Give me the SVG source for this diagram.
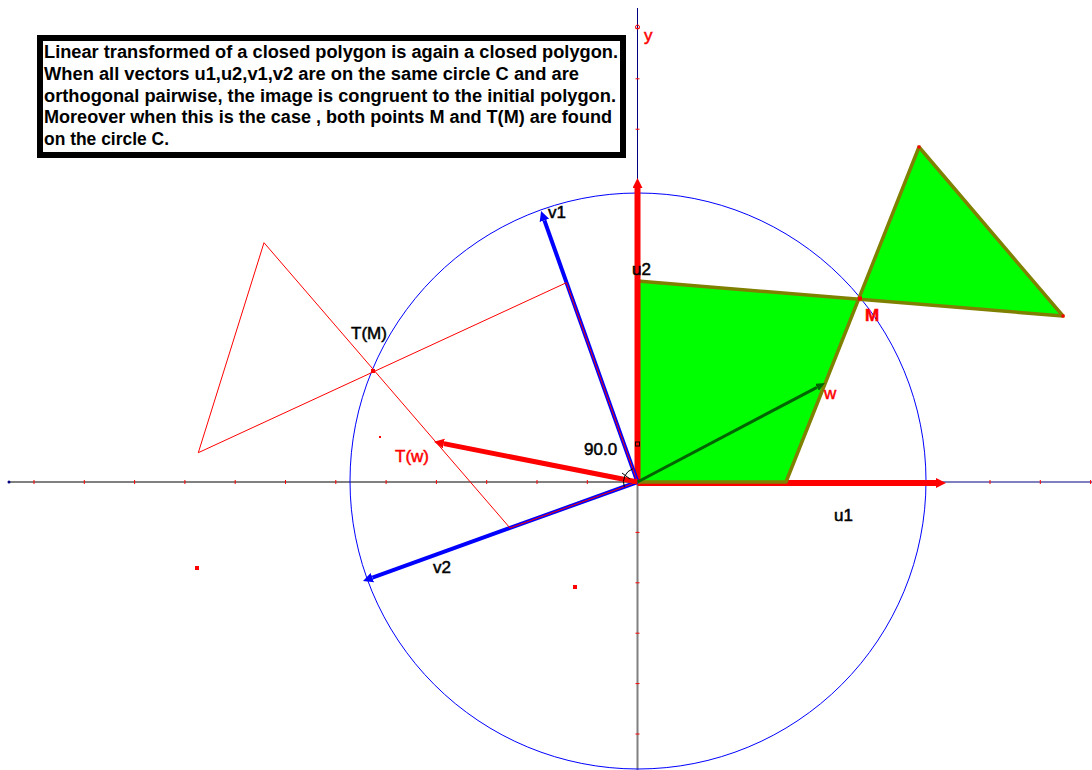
<svg xmlns="http://www.w3.org/2000/svg" width="1092" height="770" viewBox="0 0 1092 770">
<style>
.axg{stroke:#808080;stroke-width:2;fill:none}
.axn{stroke:#000080;stroke-width:1;fill:none}
.tick{stroke:#ff0000;stroke-width:1}
.lbl{font-family:"Liberation Sans",Arial,sans-serif;font-size:17px;stroke-width:0.5}
.blk{fill:#000;stroke:#000}
.red{fill:#ff0000;stroke:#ff0000}
.box{font-family:"Liberation Sans",Arial,sans-serif;font-size:17.5px;font-weight:bold;fill:#000}
</style>
<defs>
<marker id="ahR" markerUnits="userSpaceOnUse" markerWidth="11" markerHeight="11" refX="0" refY="5" orient="auto"><path d="M0,0 L10,5 L0,10 z" fill="#ff0000"/></marker>
<marker id="ahB" markerUnits="userSpaceOnUse" markerWidth="11" markerHeight="11" refX="0" refY="5" orient="auto"><path d="M0,0 L10,5 L0,10 z" fill="#0000ff"/></marker>
<marker id="ahG" markerUnits="userSpaceOnUse" markerWidth="11" markerHeight="11" refX="0" refY="4" orient="auto"><path d="M0,0 L9,4 L0,8 z" fill="#006400"/></marker>
</defs>
<rect width="1092" height="770" fill="#ffffff"/>

<g id="axes">
<line class="axg" x1="9" y1="482" x2="637.5" y2="482"/>
<line class="axn" x1="637.5" y1="482" x2="1092" y2="482"/>
<line class="axn" x1="637.5" y1="8" x2="637.5" y2="482"/>
<line class="axg" x1="637.5" y1="482" x2="637.5" y2="770"/>
<circle cx="9" cy="482" r="1.5" fill="#000080"/>
<g class="tick">
<line x1="34" y1="480" x2="34" y2="484"/><line x1="84.3" y1="480" x2="84.3" y2="484"/><line x1="134.6" y1="480" x2="134.6" y2="484"/><line x1="184.9" y1="480" x2="184.9" y2="484"/><line x1="235.2" y1="480" x2="235.2" y2="484"/><line x1="285.5" y1="480" x2="285.5" y2="484"/><line x1="335.8" y1="480" x2="335.8" y2="484"/><line x1="386.1" y1="480" x2="386.1" y2="484"/><line x1="436.4" y1="480" x2="436.4" y2="484"/><line x1="486.7" y1="480" x2="486.7" y2="484"/><line x1="537" y1="480" x2="537" y2="484"/><line x1="587.3" y1="480" x2="587.3" y2="484"/>
<line x1="990" y1="480" x2="990" y2="484"/><line x1="1040.3" y1="480" x2="1040.3" y2="484"/><line x1="1090.6" y1="480" x2="1090.6" y2="484"/>
<line x1="635.5" y1="28.4" x2="639.5" y2="28.4"/><line x1="635.5" y1="78.8" x2="639.5" y2="78.8"/><line x1="635.5" y1="129.2" x2="639.5" y2="129.2"/>
<line x1="635.5" y1="532.4" x2="639.5" y2="532.4"/><line x1="635.5" y1="582.8" x2="639.5" y2="582.8"/><line x1="635.5" y1="633.2" x2="639.5" y2="633.2"/><line x1="635.5" y1="683.6" x2="639.5" y2="683.6"/><line x1="635.5" y1="734" x2="639.5" y2="734"/>
</g>
<circle cx="637.5" cy="27" r="2" fill="none" stroke="#ff0000" stroke-width="1"/>
</g>

<g id="circleC">
<circle cx="638" cy="481" r="288" fill="none" stroke="#0000ff" stroke-width="1"/>
</g>

<g id="connectors">
<line id="u1" x1="637.5" y1="483" x2="936" y2="483" stroke="#ff0000" stroke-width="6" marker-end="url(#ahR)"/>
<polygon id="polygon" points="637.5,482 637.5,281 1063,316 919,147 786,482" fill="#00ff00" stroke="#808000" stroke-width="3.5" stroke-linejoin="round"/>
<line id="u2" x1="637.5" y1="482" x2="637.5" y2="188" stroke="#ff0000" stroke-width="6" marker-end="url(#ahR)"/>
<line id="v1" x1="637.5" y1="482" x2="544.4" y2="220.4" stroke="#0000ff" stroke-width="4" marker-end="url(#ahB)"/>
<line id="v2" x1="637.5" y1="482" x2="372.4" y2="577.6" stroke="#0000ff" stroke-width="4" marker-end="url(#ahB)"/>
<polygon id="Tpolygon" points="637.5,482 566.4,282.7 198.3,452.7 264,242.7 510,528" fill="none" stroke="#ff0000" stroke-width="1"/>
<line id="Tw" x1="637.5" y1="482" x2="443.8" y2="443.6" stroke="#ff0000" stroke-width="5" marker-end="url(#ahR)"/>
<line id="w" x1="637.5" y1="482" x2="817" y2="387.3" stroke="#006400" stroke-width="3" marker-end="url(#ahG)"/>
<path d="M624.3,486.8 A14,14 0 0 1 632.8,468.8" fill="none" stroke="#000" stroke-width="1"/>
<line x1="622" y1="473" x2="630" y2="479" stroke="#000" stroke-width="1"/>
<rect x="635.5" y="442" width="4" height="4" fill="none" stroke="#000" stroke-width="1"/>
</g>

<g id="points" fill="#ff0000">
<rect x="858" y="296.5" width="4" height="4"/>
<rect x="371" y="369" width="4" height="4"/>
<rect x="195" y="566" width="4" height="4"/>
<rect x="573" y="585" width="4" height="4"/>
<rect x="379" y="436" width="2" height="2"/>
<rect x="917.5" y="145.5" width="3" height="3"/>
<rect x="1061.5" y="314.5" width="3" height="3"/>
</g>

<g id="labels">
<text class="lbl red" x="644" y="41" font-size="15" stroke-width="0.2">y</text>
<text class="lbl blk" x="548" y="218">v1</text>
<text class="lbl blk" x="632" y="275">u2</text>
<text class="lbl red" x="865" y="321" font-weight="bold">M</text>
<text class="lbl blk" x="351" y="339">T(M)</text>
<text class="lbl red" x="824" y="399">w</text>
<text class="lbl blk" x="584" y="455" font-size="19">90.0</text>
<text class="lbl red" x="395" y="462">T(w)</text>
<text class="lbl blk" x="834" y="521">u1</text>
<text class="lbl blk" x="433" y="573">v2</text>
</g>

<g id="textbox">
<rect x="40" y="38" width="583" height="117" fill="#ffffff" stroke="#000" stroke-width="6"/>
<text class="box" x="44" y="58" textLength="574" lengthAdjust="spacingAndGlyphs">Linear transformed of a closed polygon is again a closed polygon.</text>
<text class="box" x="44" y="80" textLength="535" lengthAdjust="spacingAndGlyphs">When all vectors u1,u2,v1,v2 are on the same circle C and are</text>
<text class="box" x="44" y="101.5" textLength="572" lengthAdjust="spacingAndGlyphs">orthogonal pairwise, the image is congruent to the initial polygon.</text>
<text class="box" x="44" y="123" textLength="568" lengthAdjust="spacingAndGlyphs">Moreover when this is the case , both points M and T(M) are found</text>
<text class="box" x="44" y="144.5" textLength="125" lengthAdjust="spacingAndGlyphs">on the circle C.</text>
</g>
</svg>
